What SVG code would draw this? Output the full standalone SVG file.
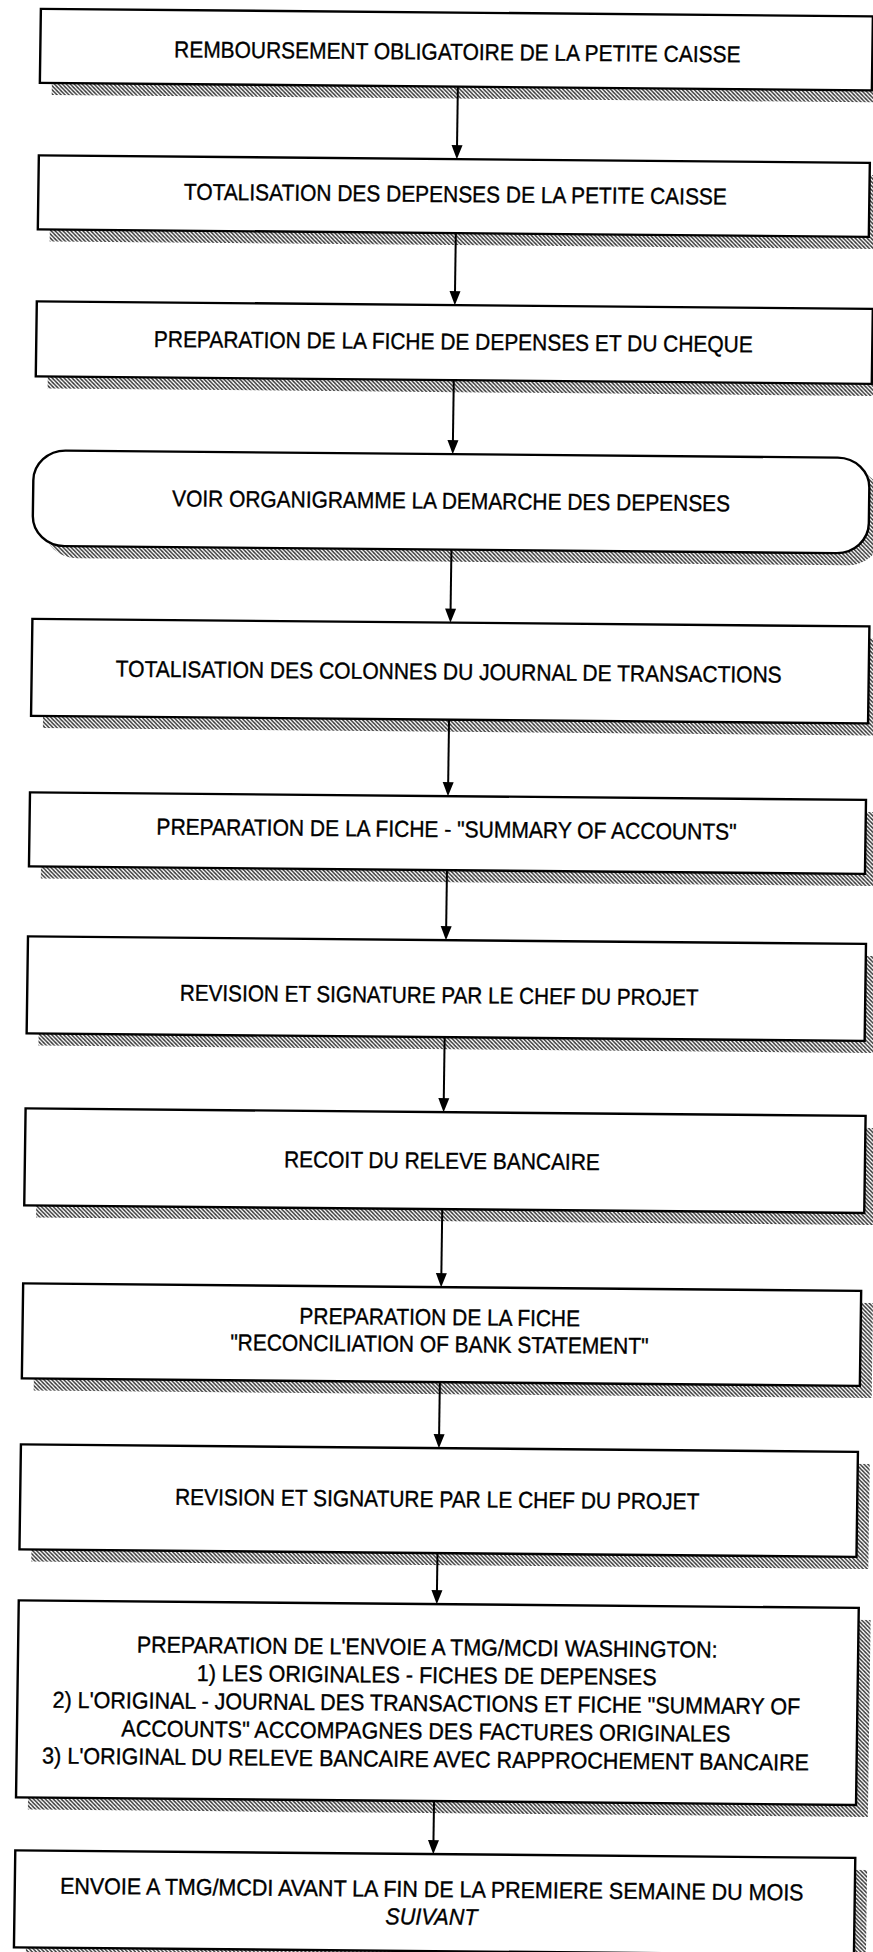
<svg xmlns="http://www.w3.org/2000/svg" width="873" height="1952" viewBox="0 0 873 1952">
<style>
.box{fill:#fff;stroke:#000;stroke-width:2.4}
.sh{fill:url(#hatch);stroke:none}
.t{font-family:"Liberation Sans",Arial,Helvetica,sans-serif;font-size:23px;fill:#000;stroke:#000;stroke-width:0.35;text-anchor:middle}
.it{font-style:italic}
.ln{stroke:#000;stroke-width:2;fill:none}
.ah{fill:#000}
</style>
<defs>
<pattern id="hatch" width="4" height="4" patternUnits="userSpaceOnUse">
<rect width="4" height="4" fill="#fff"/>
<path d="M0,0 L4,4 M-1,3 L1,5 M3,-1 L5,1" stroke="#333" stroke-width="1.4"/>
</pattern>
</defs>
<rect width="873" height="1952" fill="#fff"/>
<g transform="matrix(1,0.009,-0.0139,1,0,0)">
<g id="n1"><rect class="sh" x="53" y="20.5" width="832" height="74"/><rect class="box" x="41" y="8.5" width="832" height="74"/><text class="t" transform="translate(458 0) scale(0.91 1)" y="55.7">REMBOURSEMENT OBLIGATOIRE DE LA PETITE CAISSE</text></g>
<g id="n2"><rect class="sh" x="53" y="167" width="831" height="74"/><rect class="box" x="41" y="155" width="831" height="74"/><text class="t" transform="translate(458 0) scale(0.91 1)" y="198">TOTALISATION DES DEPENSES DE LA PETITE CAISSE</text></g>
<g id="n3"><rect class="sh" x="53" y="313" width="836" height="75"/><rect class="box" x="41" y="301" width="836" height="75"/><text class="t" transform="translate(458 0) scale(0.91 1)" y="345.5">PREPARATION DE LA FICHE DE DEPENSES ET DU CHEQUE</text></g>
<g id="n4"><rect class="sh" x="52" y="462" width="836" height="95.5" rx="32" ry="30"/><rect class="box" x="40" y="450" width="836" height="95.5" rx="32" ry="30"/><text class="t" transform="translate(458 0) scale(0.91 1)" y="504.7">VOIR ORGANIGRAMME LA DEMARCHE DES DEPENSES</text></g>
<g id="n5"><rect class="sh" x="53" y="630.5" width="837" height="97"/><rect class="box" x="41" y="618.5" width="837" height="97"/><text class="t" transform="translate(458 0) scale(0.915 1)" y="675.5">TOTALISATION DES COLONNES DU JOURNAL DE TRANSACTIONS</text></g>
<g id="n6"><rect class="sh" x="53" y="804" width="836" height="74"/><rect class="box" x="41" y="792" width="836" height="74"/><text class="t" transform="translate(458 0) scale(0.915 1)" y="833">PREPARATION DE LA FICHE - "SUMMARY OF ACCOUNTS"</text></g>
<g id="n7"><rect class="sh" x="53" y="948" width="838" height="97"/><rect class="box" x="41" y="936" width="838" height="97"/><text class="t" transform="translate(453 0) scale(0.9 1)" y="999">REVISION ET SIGNATURE PAR LE CHEF DU PROJET</text></g>
<g id="n8"><rect class="sh" x="53" y="1120" width="840" height="97"/><rect class="box" x="41" y="1108" width="840" height="97"/><text class="t" transform="translate(458 0) scale(0.91 1)" y="1164.5">RECOIT DU RELEVE BANCAIRE</text></g>
<g id="n9"><rect class="sh" x="53" y="1295" width="838" height="95"/><rect class="box" x="41" y="1283" width="838" height="95"/><text class="t" transform="translate(458 0) scale(0.91 1)" y="1321">PREPARATION DE LA FICHE</text><text class="t" transform="translate(458 0) scale(0.91 1)" y="1348">"RECONCILIATION OF BANK STATEMENT"</text></g>
<g id="n10"><rect class="sh" x="53" y="1456" width="837" height="105"/><rect class="box" x="41" y="1444" width="837" height="105"/><text class="t" transform="translate(458 0) scale(0.91 1)" y="1503">REVISION ET SIGNATURE PAR LE CHEF DU PROJET</text></g>
<g id="n11"><rect class="sh" x="53" y="1612" width="840" height="197"/><rect class="box" x="41" y="1600" width="840" height="197"/>
<text class="t" transform="translate(450 0) scale(0.935 1)" y="1651">PREPARATION DE L'ENVOIE A TMG/MCDI WASHINGTON:</text>
<text class="t" transform="translate(450 0) scale(0.935 1)" y="1679">1) LES ORIGINALES - FICHES DE DEPENSES</text>
<text class="t" transform="translate(450 0) scale(0.935 1)" y="1707">2) L'ORIGINAL - JOURNAL DES TRANSACTIONS ET FICHE "SUMMARY OF</text>
<text class="t" transform="translate(450 0) scale(0.935 1)" y="1735">ACCOUNTS" ACCOMPAGNES DES FACTURES ORIGINALES</text>
<text class="t" transform="translate(450 0) scale(0.935 1)" y="1763">3) L'ORIGINAL DU RELEVE BANCAIRE AVEC RAPPROCHEMENT BANCAIRE</text></g>
<g id="n12"><rect class="sh" x="53" y="1862" width="840" height="97"/><rect class="box" x="41" y="1850" width="840" height="97"/>
<text class="t" transform="translate(458 0) scale(0.935 1)" y="1893">ENVOIE A TMG/MCDI AVANT LA FIN DE LA PREMIERE SEMAINE DU MOIS</text>
<text class="t it" transform="translate(458 0) scale(0.935 1)" y="1920.5">SUIVANT</text></g>
<g id="connectors">
<path class="ln" d="M459,82.5 V142"/><polygon class="ah" points="453.5,141 464.5,141 459,155"/>
<path class="ln" d="M459,229 V288"/><polygon class="ah" points="453.5,287 464.5,287 459,301"/>
<path class="ln" d="M459,376 V437"/><polygon class="ah" points="453.5,436 464.5,436 459,450"/>
<path class="ln" d="M459,545.5 V605"/><polygon class="ah" points="453.5,604.5 464.5,604.5 459,618.5"/>
<path class="ln" d="M459,715.5 V779"/><polygon class="ah" points="453.5,778 464.5,778 459,792"/>
<path class="ln" d="M459,866 V923"/><polygon class="ah" points="453.5,922 464.5,922 459,936"/>
<path class="ln" d="M459,1033 V1095"/><polygon class="ah" points="453.5,1094 464.5,1094 459,1108"/>
<path class="ln" d="M459,1205 V1270"/><polygon class="ah" points="453.5,1269 464.5,1269 459,1283"/>
<path class="ln" d="M459,1378 V1431"/><polygon class="ah" points="453.5,1430 464.5,1430 459,1444"/>
<path class="ln" d="M459,1549 V1587"/><polygon class="ah" points="453.5,1586 464.5,1586 459,1600"/>
<path class="ln" d="M459,1797 V1837"/><polygon class="ah" points="453.5,1836 464.5,1836 459,1850"/>
</g>
</g>
</svg>
